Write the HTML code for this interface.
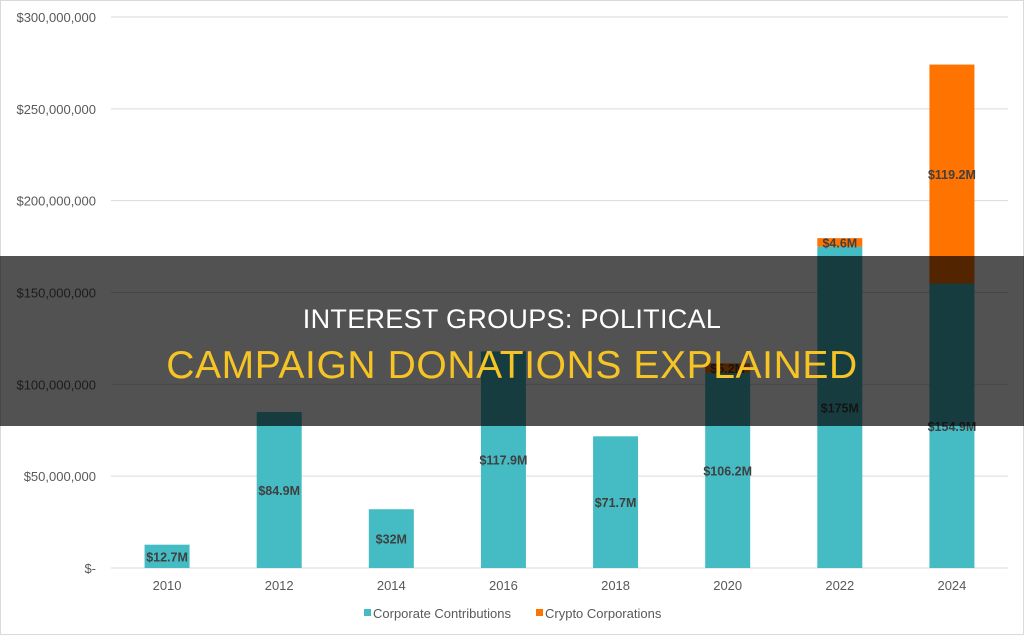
<!DOCTYPE html>
<html><head><meta charset="utf-8"><style>
body{margin:0;width:1024px;height:635px;overflow:hidden;background:#fff;font-family:"Liberation Sans",sans-serif}
#band{position:absolute;left:0;top:256px;width:1024px;height:170px;background:rgba(0,0,0,0.68)}
.t{position:absolute;left:0;width:1024px;text-align:center}
</style></head><body>
<svg id="c" width="1024" height="635" style="position:absolute;left:0;top:0">
<rect x="0.5" y="0.5" width="1023" height="634" fill="none" stroke="#d9d9d9"/>
</svg>
<div id="band"></div>
<div class="t" style="top:304px;color:#fff;font-size:27px;letter-spacing:0.3px">INTEREST GROUPS: POLITICAL</div>
<div class="t" style="top:344px;color:#f6c424;font-size:39px;letter-spacing:0.6px">CAMPAIGN DONATIONS EXPLAINED</div>
<script>
const years=["2010","2012","2014","2016","2018","2020","2022","2024"];
const corporate=[12.7,84.9,32,117.9,71.7,106.2,175,154.9];
const crypto=[0,0,0,0,0,5.2,4.6,119.2];
const corpLabels=["$12.7M","$84.9M","$32M","$117.9M","$71.7M","$106.2M","$175M","$154.9M"];
const cryptoLabels=["","","","","","$5.2M","$4.6M","$119.2M"];
const yTicks=[0,50,100,150,200,250,300];
const yTickLabels=["$-","$50,000,000","$100,000,000","$150,000,000","$200,000,000","$250,000,000","$300,000,000"];
const svg=document.getElementById('c');const NS="http://www.w3.org/2000/svg";
const y0=568,y1=17,xL=111,xR=1008,bw=45;
const y=v=>y0-(v/300)*(y0-y1);
const step=(xR-xL)/years.length;
const x=i=>xL+step*(i+0.5);
function mk(t,a){const e=document.createElementNS(NS,t);for(const k in a)e.setAttribute(k,a[k]);svg.appendChild(e);return e;}
yTicks.forEach((v,i)=>{
 const g=mk('line',{x1:xL,x2:xR,y1:y(v),y2:y(v),stroke:'#d9d9d9'});
 
 
 const t=mk('text',{x:96,y:y(v)+5,'text-anchor':'end','font-size':13,fill:'#595959'});t.textContent=yTickLabels[i];
 
 
});
years.forEach((yr,i)=>{
 const cx=x(i);
 const r=mk('rect',{x:cx-bw/2,y:y(corporate[i]),width:bw,height:y(0)-y(corporate[i]),fill:'#45bcc4'});
 
 
 const lt=mk('text',{x:cx,y:(y(0)+y(corporate[i]))/2+5,'text-anchor':'middle','font-size':12.5,'font-weight':'bold',fill:'#404040'});lt.textContent=corpLabels[i];
 
 
 if(crypto[i]>0){
  const top=corporate[i]+crypto[i];
  const r2=mk('rect',{x:cx-bw/2,y:y(top),width:bw,height:y(corporate[i])-y(top),fill:'#ff7300'});
  
  
  const l2=mk('text',{x:cx,y:(y(corporate[i])+y(top))/2+5,'text-anchor':'middle','font-size':12.5,'font-weight':'bold',fill:'#404040'});l2.textContent=cryptoLabels[i];
  
  
 }
 const xt=mk('text',{x:cx,y:590,'text-anchor':'middle','font-size':13,fill:'#595959'});xt.textContent=yr;
 
 
});
const lg=[["Corporate Contributions","#45bcc4",364],["Crypto Corporations","#ff7300",536]];
lg.forEach(l=>{
 const s=mk('rect',{x:l[2],y:609,width:7,height:7,fill:l[1]});
 
 
 const t=mk('text',{x:l[2]+9,y:618,'font-size':13,fill:'#595959'});t.textContent=l[0];
 
 
});
</script>
</body></html>
